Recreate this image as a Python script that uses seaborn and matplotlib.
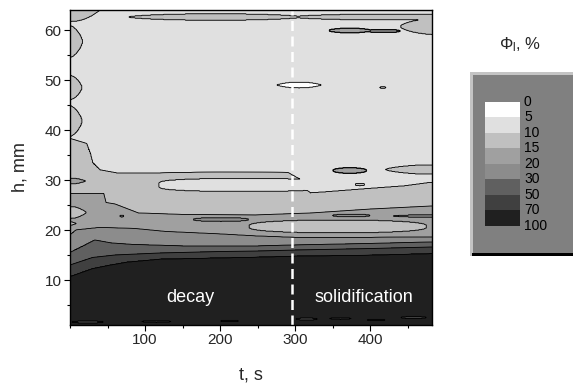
import numpy as np
import seaborn as sns
import matplotlib.pyplot as plt
from matplotlib.colors import ListedColormap
from matplotlib.patches import Rectangle
from matplotlib.ticker import MultipleLocator

sns.set_theme(style="ticks")
plt.rcParams['font.family'] = ['Liberation Sans', 'DejaVu Sans']
plt.rcParams['mathtext.fontset'] = 'custom'
plt.rcParams['mathtext.rm'] = 'Liberation Sans'
plt.rcParams['mathtext.it'] = 'Liberation Sans:italic'

# Contour levels of the liquid fraction (%) and their greys
levels = [0, 5, 10, 15, 20, 30, 50, 70, 100]
level_labels = ['0', '5', '10', '15', '20', '30', '50', '70', '100']
greys = ['#ffffff', '#e0e0e0', '#c0c0c0', '#a0a0a0', '#8c8c8c', '#606060', '#404040', '#202020']

# Height (mm) of each iso-line, read at the listed times (s)
t_h70 = [0, 30, 53, 76, 120, 250, 300, 400, 480]
h70 = [10.7, 12.3, 13.0, 13.6, 14.2, 14.6, 14.8, 15.0, 15.3]
t_h50 = [0, 30, 60, 120, 200, 250, 300, 400, 480]
h50 = [13.0, 14.5, 15.0, 15.4, 15.7, 15.8, 16.0, 16.3, 16.6]
t_h30 = [0, 20, 33, 55, 83, 150, 250, 300, 400, 480]
h30 = [15.5, 17.0, 18.0, 17.4, 17.1, 16.8, 16.8, 17.0, 17.3, 17.6]
t_h20 = [0, 8, 40, 86, 127, 200, 247, 300, 400, 480]
h20 = [19.0, 20.0, 20.5, 20.3, 19.7, 19.2, 18.8, 18.5, 18.5, 18.6]
t_h15 = [0, 45, 48, 60, 91, 150, 247, 320, 400, 480]
h15 = [27.3, 27.3, 25.5, 25.2, 23.4, 23.1, 23.0, 23.4, 24.2, 24.8]
t_h10 = [0, 22, 27, 30, 40, 62, 120, 200, 290, 308, 315, 320, 340, 400, 445, 480]
h10 = [38.3, 37.3, 35.3, 33.5, 32.0, 31.4, 31.4, 31.6, 31.5, 30.0, 28.0, 27.4, 27.6, 28.3, 28.8, 29.5]
phi_bottom = 90.0
phi_top = 7.5

# Closed patches: (t start, t end, centre h, half thickness, value %, bluntness)
islands = [
    (-40, 42, 64.2, 2.5, 12, 1), (-25, 17, 57.7, 3.3, 12, 0.8), (-22, 16, 48.5, 2.5, 12, 0.8),
    (-25, 16, 41.8, 3.2, 12, 0.8), (-20, 21, 29.8, 0.6, 16, 1), (-20, 22, 23.5, 1.2, 14, 1),
    (-10, 9, 21.3, 0.35, 14, 1),
    (78, 310, 62.6, 0.65, 12, 0.6), (295, 560, 62.6, 0.6, 12, 0.6), (440, 560, 60.7, 1.7, 12, 0.6),
    (345, 400, 59.9, 0.45, 18, 0.5), (395, 440, 59.8, 0.3, 18, 0.5),
    (275, 335, 49.0, 0.6, 3, 0.8), (412, 421, 48.5, 0.15, 12, 0.5),
    (350, 395, 31.9, 0.55, 17, 0.5), (420, 545, 32.1, 0.9, 12, 0.8), (380, 392, 29.1, 0.2, 12, 0.5),
    (118, 345, 29.0, 1.3, 7.5, 0.25),
    (66, 72, 22.8, 0.2, 22, 0.5), (164, 238, 22.1, 0.4, 22, 0.4), (349, 400, 22.9, 0.3, 22, 0.5),
    (430, 540, 22.8, 0.3, 22, 0.8), (238, 475, 20.7, 1.3, 13, 0.35),
    (2, 45, 1.6, 0.25, 65, 0.5), (95, 135, 1.7, 0.2, 65, 0.5), (200, 225, 1.8, 0.2, 65, 0.5),
    (300, 330, 2.2, 0.25, 65, 0.5), (345, 375, 2.3, 0.2, 65, 0.5), (395, 420, 2.0, 0.2, 65, 0.5),
    (440, 475, 2.5, 0.25, 65, 0.5),
]

t_split = 296  # end of decay, start of solidification

# Build the field column by column
t = np.arange(0, 483, 1.0)
h = np.arange(1.0, 64.05, 0.1)
T, H = np.meshgrid(t, h)
Z = np.empty_like(T)
for j, tj in enumerate(t):
    hs = [1.0] + [np.interp(tj, tk, hk) for tk, hk in
                  [(t_h70, h70), (t_h50, h50), (t_h30, h30), (t_h20, h20), (t_h15, h15), (t_h10, h10)]] + [64.0]
    vals = [phi_bottom, 70, 50, 30, 20, 15, 10, phi_top]
    Z[:, j] = np.interp(h, hs, vals)

for t0, t1, hc, half, val, p in islands:
    s = (T - t0) / (t1 - t0)
    inside = (s > 0) & (s < 1)
    w = np.zeros_like(T)
    w[inside] = half * (4 * s[inside] * (1 - s[inside])) ** p
    Z[inside & (np.abs(H - hc) < w)] = val

fig = plt.figure(figsize=(5.73, 3.85), dpi=100)
ax = fig.add_axes([70 / 573, 60 / 385, 362 / 573, 315 / 385])
ax.contourf(T, H, Z, levels=levels, colors=greys)
ax.contour(T, H, Z, levels=levels[1:-1], colors='black', linewidths=0.6)
ax.axvline(t_split, color='white', lw=1.8, ls=(0, (4, 2.2)))

ax.text(160, 6.6, 'decay', color='white', fontsize=13, ha='center', va='center')
ax.text(391, 6.6, 'solidification', color='white', fontsize=13, ha='center', va='center')

ax.set_xlim(0, 482)
ax.set_ylim(1, 64)
ax.xaxis.set_major_locator(MultipleLocator(100))
ax.xaxis.set_minor_locator(MultipleLocator(50))
ax.yaxis.set_major_locator(MultipleLocator(10))
ax.yaxis.set_minor_locator(MultipleLocator(5))
ax.set_xticks([100, 200, 300, 400])
ax.tick_params(which='major', direction='out', length=4, width=0.8, labelsize=11, pad=2, color='black')
ax.tick_params(which='minor', direction='out', length=2.2, width=0.8, color='black')
ax.tick_params(bottom=True, left=True, which='both')
for sp in ax.spines.values():
    sp.set_linewidth(1.0)
    sp.set_color('black')
ax.set_xlabel('t, s', fontsize=13, labelpad=14)
ax.set_ylabel('h, mm', fontsize=13, labelpad=12)

# Legend box on the right
fig.patches.append(Rectangle((470 / 573, 129 / 385), 110 / 573, 184.3 / 385,
                             transform=fig.transFigure, facecolor='#c4c4c4', edgecolor='none', zorder=1))
fig.patches.append(Rectangle((473 / 573, 132 / 385), 110 / 573, 178 / 385,
                             transform=fig.transFigure, facecolor='#808080', edgecolor='none', zorder=1))
fig.patches.append(Rectangle((472 / 573, 129 / 385), 110 / 573, 3 / 385,
                             transform=fig.transFigure, facecolor='black', edgecolor='none', zorder=1))

lax = fig.add_axes([485 / 573, (385 - 225.7) / 385, 35 / 573, 124 / 385], zorder=3)
sns.heatmap(np.arange(len(greys)).reshape(-1, 1), cmap=ListedColormap(greys), cbar=False,
            xticklabels=False, yticklabels=False, ax=lax)
lax.tick_params(left=False, bottom=False)

for i, lab in enumerate(level_labels):
    y_px = 101.7 + i * 124 / 8
    fig.text(524 / 573, 1 - y_px / 385, lab, fontsize=10, ha='left', va='center', color='black', zorder=4)

fig.text(520 / 573, 1 - 45 / 385, r'$\mathrm{\Phi_l}$, %', fontsize=12, ha='center', va='center')

fig.savefig('out.png', dpi=100)
